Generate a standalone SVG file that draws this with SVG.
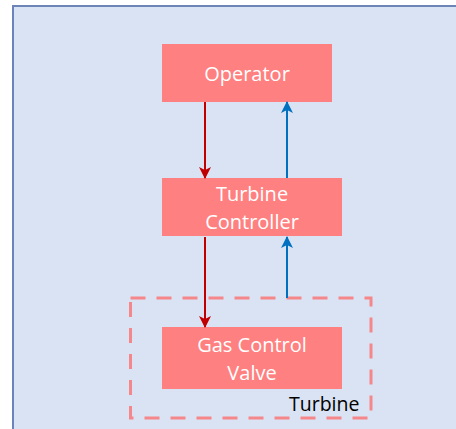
<svg xmlns="http://www.w3.org/2000/svg" width="456" height="429" viewBox="0 0 456 429">
<defs>
<style>
.frame{fill:#DAE3F3;stroke:#6C84B8;stroke-width:2}
.box{fill:#FF8080}
.lbl{font-family:"Open Sans","Liberation Sans",sans-serif;font-size:20px;fill:#FFFFFF;text-anchor:middle}
.grp{fill:none;stroke:#F5878A;stroke-width:3;stroke-dasharray:15 11}
.glbl{font-family:"Open Sans","Liberation Sans",sans-serif;font-size:19.5px;fill:#000000;text-anchor:start}
.red{stroke:#C00000;stroke-width:2;fill:none;marker-end:url(#ahRed)}
.blue{stroke:#0070C0;stroke-width:2;fill:none;marker-end:url(#ahBlue)}
</style>
<marker id="ahRed" viewBox="0 0 12 12" refX="11" refY="6" markerWidth="12" markerHeight="12" markerUnits="userSpaceOnUse" orient="auto">
<path d="M0,0 L12,6 L0,12 L3,6 Z" fill="#C00000"/>
</marker>
<marker id="ahBlue" viewBox="0 0 12 12" refX="11" refY="6" markerWidth="12" markerHeight="12" markerUnits="userSpaceOnUse" orient="auto">
<path d="M0,0 L12,6 L0,12 L3,6 Z" fill="#0070C0"/>
</marker>
</defs>
<rect class="frame" x="13" y="6" width="460" height="440"/>
<g id="turbine-group">
<rect class="grp" x="130.5" y="298" width="240.5" height="120"/>
<text class="glbl" x="289" y="411">Turbine</text>
</g>
<g id="operator">
<rect class="box" x="162" y="44" width="170" height="58"/>
<text class="lbl" x="247" y="81">Operator</text>
</g>
<g id="turbine-controller">
<rect class="box" x="162" y="178" width="180" height="58"/>
<text class="lbl" x="252" y="201">Turbine</text>
<text class="lbl" x="252" y="229">Controller</text>
</g>
<g id="gas-control-valve">
<rect class="box" x="162" y="327" width="180" height="62"/>
<text class="lbl" x="252" y="352">Gas Control</text>
<text class="lbl" x="252" y="380">Valve</text>
</g>
<g id="connectors">
<line class="red" x1="205" y1="102" x2="205" y2="178"/>
<line class="red" x1="205" y1="237" x2="205" y2="327"/>
<line class="blue" x1="287" y1="178" x2="287" y2="102"/>
<line class="blue" x1="287" y1="298" x2="287" y2="237"/>
</g>
</svg>
